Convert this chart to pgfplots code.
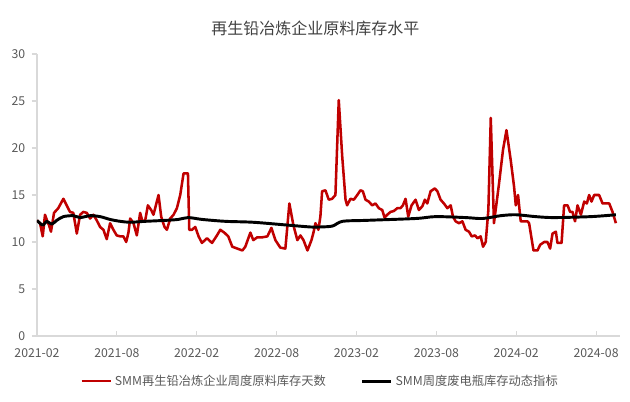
\documentclass[border=0pt]{standalone}
\usepackage{fontspec}
\setmainfont{Noto Sans CJK SC}
\usepackage{pgfplots}
\pgfplotsset{compat=1.18}
\definecolor{redline}{HTML}{C00000}
\definecolor{axgray}{HTML}{D9D9D9}
\definecolor{txtgray}{HTML}{595959}
\definecolor{titlegray}{HTML}{404040}
\begin{document}
\begin{tikzpicture}
\useasboundingbox (0,0) rectangle (472.5pt,300.75pt);
\node[text=titlegray, font=\fontsize{12}{14}\selectfont] at (236.5pt,279.5pt) {再生铅冶炼企业原料库存水平};
\begin{axis}[
  at={(27.75pt,48.75pt)}, anchor=south west,
  scale only axis, width=437.25pt, height=211.5pt,
  xmin=0, xmax=43.8, ymin=0, ymax=30,
  axis x line*=bottom, axis y line*=left,
  axis line style={draw=axgray, line width=0.8pt, -},
  xtick={0,6,...,42},
  xticklabels={2021-02,2021-08,2022-02,2022-08,2023-02,2023-08,2024-02,2024-08},
  ytick={0,5,...,30},
  xtick align=inside, ytick align=outside,
  major tick length=3.75pt,
  tick style={draw=axgray, line width=0.8pt},
  /pgf/number format/assume math mode=true,
  tick label style={text=txtgray, font=\fontsize{9.2}{11}\selectfont},
  xticklabel style={yshift=-6pt},
  yticklabel style={xshift=-1.5pt},
  legend style={at={(0.486,-0.16)}, anchor=center, draw=none, fill=none,
    legend columns=2, font=\fontsize{9.2}{11}\selectfont, text=txtgray,
    /tikz/every even column/.append style={column sep=24pt},
    inner sep=0pt},
  legend image code/.code={\draw[#1] (0pt,0pt) -- (22pt,0pt);},
  legend cell align=left,
]
\addplot[redline, line width=1.9pt, line join=round] coordinates {
(0,12.3)(0.23,12.0)(0.43,10.6)(0.60,12.9)(0.78,12.2)(0.90,11.8)(1.05,11.1)(1.28,13.1)
(1.60,13.6)(1.98,14.6)(2.23,13.9)(2.48,13.2)(2.73,13.1)(2.99,10.9)(3.24,12.9)(3.48,13.2)
(3.74,13.1)(3.99,12.5)(4.24,12.9)(4.49,12.3)(4.74,11.6)(4.99,11.3)(5.24,10.3)(5.49,12.0)
(5.74,11.3)(5.99,10.7)(6.25,10.6)(6.49,10.6)(6.70,10.0)(6.87,11.0)(7.00,12.5)(7.25,12.0)
(7.50,10.7)(7.75,13.1)(7.92,12.2)(8.13,12.3)(8.33,13.9)(8.58,13.4)(8.75,12.9)(9.13,15.0)
(9.33,12.7)(9.58,11.6)(9.76,11.3)(10.01,12.5)(10.26,12.9)(10.51,13.6)(10.76,15.0)(11.01,17.3)
(11.34,17.3)(11.44,11.3)(11.64,11.3)(11.89,11.6)(12.14,10.6)(12.39,9.9)(12.77,10.4)(13.15,9.9)
(13.52,10.7)(13.77,11.3)(14.07,11.0)(14.37,10.6)(14.67,9.5)(15.05,9.3)(15.43,9.1)(15.65,9.5)
(16.03,11.0)(16.25,10.2)(16.55,10.5)(16.93,10.5)(17.31,10.6)(17.61,11.5)(17.91,10.2)(18.28,9.4)
(18.66,9.3)(18.96,14.1)(19.26,11.8)(19.56,10.2)(19.79,10.7)(20.02,10.2)(20.32,9.1)(20.62,10.2)
(20.77,11.0)(20.92,12.0)(21.14,11.3)(21.29,12.7)(21.42,15.4)(21.67,15.5)(21.92,14.5)(22.17,14.6)
(22.42,15.0)(22.67,25.1)(22.93,19.1)(23.18,14.5)(23.30,13.9)(23.55,14.6)(23.80,14.5)(24.06,15.0)
(24.30,15.5)(24.48,15.4)(24.68,14.5)(24.93,14.3)(25.18,13.9)(25.43,14.1)(25.68,13.6)(25.94,13.4)
(26.11,12.6)(26.31,12.9)(26.56,13.2)(26.81,13.3)(27.07,13.6)(27.31,13.6)(27.49,13.9)(27.69,14.6)
(27.89,12.7)(28.14,13.9)(28.44,14.5)(28.69,13.4)(28.95,13.8)(29.14,14.5)(29.32,14.1)(29.57,15.4)
(29.89,15.7)(30.08,15.4)(30.32,14.5)(30.57,14.1)(30.83,13.6)(31.08,13.9)(31.25,12.7)(31.45,12.2)
(31.70,12.0)(31.96,12.2)(32.20,11.3)(32.45,11.1)(32.66,10.6)(32.91,10.7)(33.09,10.4)(33.33,10.6)
(33.51,9.5)(33.71,10.0)(33.91,13.4)(34.09,23.2)(34.33,12.0)(34.71,16.2)(35.01,19.8)(35.27,21.9)
(35.59,18.7)(35.84,15.9)(35.97,13.9)(36.14,15.0)(36.34,12.2)(36.85,12.2)(36.97,12.0)(37.30,9.1)
(37.60,9.1)(37.80,9.7)(38.10,10.0)(38.35,10.0)(38.55,9.3)(38.73,10.9)(38.98,11.1)(39.10,9.9)
(39.41,9.9)(39.60,13.9)(39.86,13.9)(40.05,13.2)(40.23,13.2)(40.42,12.2)(40.61,13.9)(40.86,12.9)
(41.11,14.3)(41.31,14.1)(41.48,15.0)(41.66,14.3)(41.86,15.0)(42.23,15.0)(42.49,14.1)(42.99,14.1)
(43.24,13.2)(43.49,12.0)
};
\addlegendentry{SMM再生铅冶炼企业周度原料库存天数}
\addplot[black, line width=2.2pt, line join=round, smooth] coordinates {
(0,12.3)(0.43,11.8)(0.73,12.2)(1.11,11.9)(1.48,12.3)(1.98,12.7)(2.73,12.8)(3.24,12.6)
(3.99,12.8)(4.74,12.7)(5.49,12.4)(6.25,12.2)(7.00,12.1)(8.13,12.2)(9.63,12.3)(10.61,12.4)
(11.36,12.6)(12.42,12.4)(14.15,12.2)(16.25,12.1)(18.81,11.8)(20.54,11.6)(21.29,11.6)(22.20,11.7)
(22.95,12.2)(24.68,12.3)(28.44,12.5)(29.95,12.7)(32.20,12.6)(33.48,12.5)(34.84,12.8)(35.97,12.9)
(37.47,12.7)(38.83,12.6)(41.61,12.7)(43.49,12.9)
};
\addlegendentry{SMM周度废电瓶库存动态指标}
\end{axis}
\end{tikzpicture}
\end{document}
